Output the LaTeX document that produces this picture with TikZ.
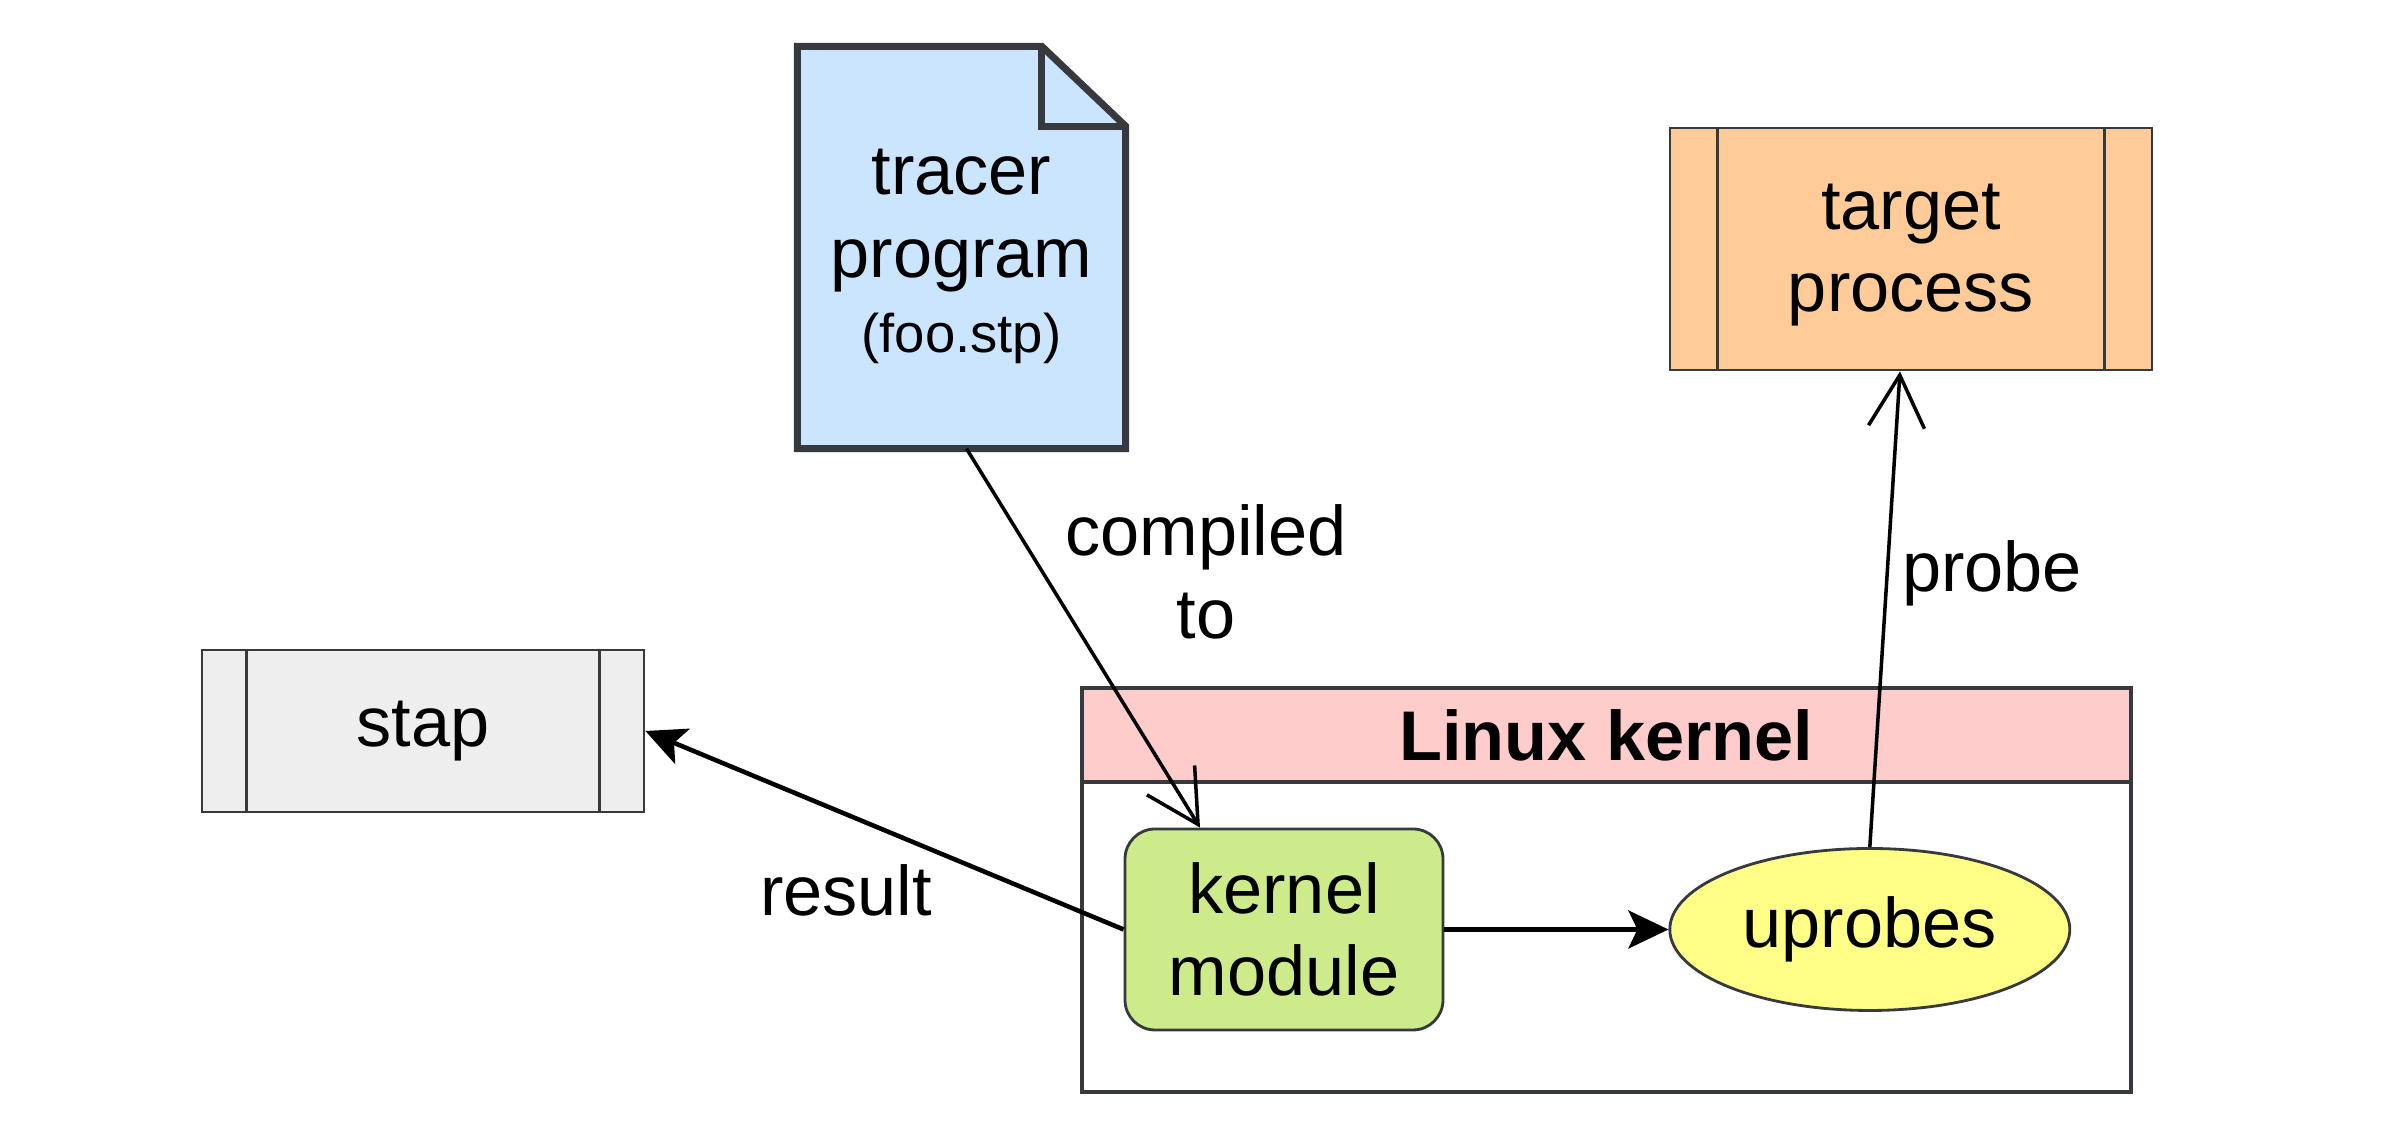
\documentclass[tikz,border=0pt]{standalone}
\usepackage{fontspec}
\setmainfont{Liberation Sans}
\usetikzlibrary{arrows.meta,backgrounds,positioning,shapes.geometric}
\definecolor{edgegray}{HTML}{36393D}
\definecolor{docfill}{HTML}{CCE5FF}
\definecolor{targetfill}{HTML}{FFCC99}
\definecolor{stapfill}{HTML}{EEEEEE}
\definecolor{headfill}{HTML}{FFCCCC}
\definecolor{modfill}{HTML}{CDEB8B}
\definecolor{probefill}{HTML}{FFFF88}

\begin{document}
\begin{tikzpicture}[font=\fontsize{20}{23.5}\selectfont,
    box/.style={draw=edgegray,line width=0.8pt,inner sep=0pt,align=center},
    proc/.style={box,minimum width=#1},
    lbl/.style={inner sep=0pt,align=center},
    openarrow/.style={line width=1pt,-{Straight Barb[length=0.52cm,width=0.56cm,line width=1pt]}},
    fullarrow/.style={line width=1.3pt,-{Stealth[length=0.4cm,width=0.38cm,inset=0.09cm]}}]
    \useasboundingbox (0,0) rectangle (24.04,11.24);
    \node[lbl,minimum width=3.27cm,minimum height=4.01cm,
      label={[lbl,yshift=-0.09cm]center:tracer\\program\\[-2pt]{\fontsize{15.5}{19}\selectfont (foo.stp)}}] (doc) at (9.615,8.765) {};
    \node[proc=4.82cm,fill=targetfill,minimum height=2.42cm,
      label={[lbl,yshift=-0.06cm]center:target\\process}] (target) at (19.11,8.75) {};
    \node[proc=4.42cm,fill=stapfill,minimum height=1.62cm] (stap) at (4.23,3.93) {stap};
    \node[box,line width=1pt,fill=white,minimum width=10.49cm,minimum height=4.04cm] (kernel) at (16.065,2.34) {};
    \node[box,line width=1pt,fill=headfill,minimum width=10.49cm,minimum height=0.94cm,
      font=\fontsize{20}{23.5}\selectfont\bfseries,below=0pt of kernel.north] (head) {Linux kernel};
    \node[box,fill=modfill,rounded corners=0.3cm,minimum width=3.18cm,minimum height=2.01cm] (module) at (12.84,1.945) {kernel\\module};
    \node[box,ellipse,fill=probefill,minimum width=4cm,minimum height=1.62cm,right=2.24cm of module] (uprobes) {uprobes};
    % document outline with folded corner
    \begin{scope}[on background layer]
    \filldraw[fill=docfill,draw=edgegray,line width=2pt,line join=miter]
      (doc.south west) -- (doc.north west) -- ([xshift=-0.84cm]doc.north east)
      -- ([yshift=-0.8cm]doc.north east) -- (doc.south east) -- cycle;
    \draw[edgegray,line width=2pt] ([xshift=-0.84cm]doc.north east) |- ([yshift=-0.8cm]doc.north east);
    \end{scope}
    % process bars
    \foreach \n/\d in {stap/0.46,target/0.49}
      \draw[edgegray,line width=0.8pt] ([xshift=\d cm]\n.north west) -- ([xshift=\d cm]\n.south west)
        ([xshift=-\d cm]\n.north east) -- ([xshift=-\d cm]\n.south east);
    \node[lbl] (compiled) at (12.06,5.52) {compiled\\to};
    \node[lbl] (probe) at (19.92,5.51) {probe};
    \node[lbl] (result) at (8.46,2.34) {result};
    \path[openarrow]
    ([xshift=0.05cm]doc.south) edge ([xshift=-0.84cm]module.north)
    (uprobes.north) edge ([xshift=-0.11cm]target.south)
    ;
    \path[fullarrow]
    (module.west) edge (stap.east)
    (module.east) edge (uprobes)
    ;
  \end{tikzpicture}
\end{document}
